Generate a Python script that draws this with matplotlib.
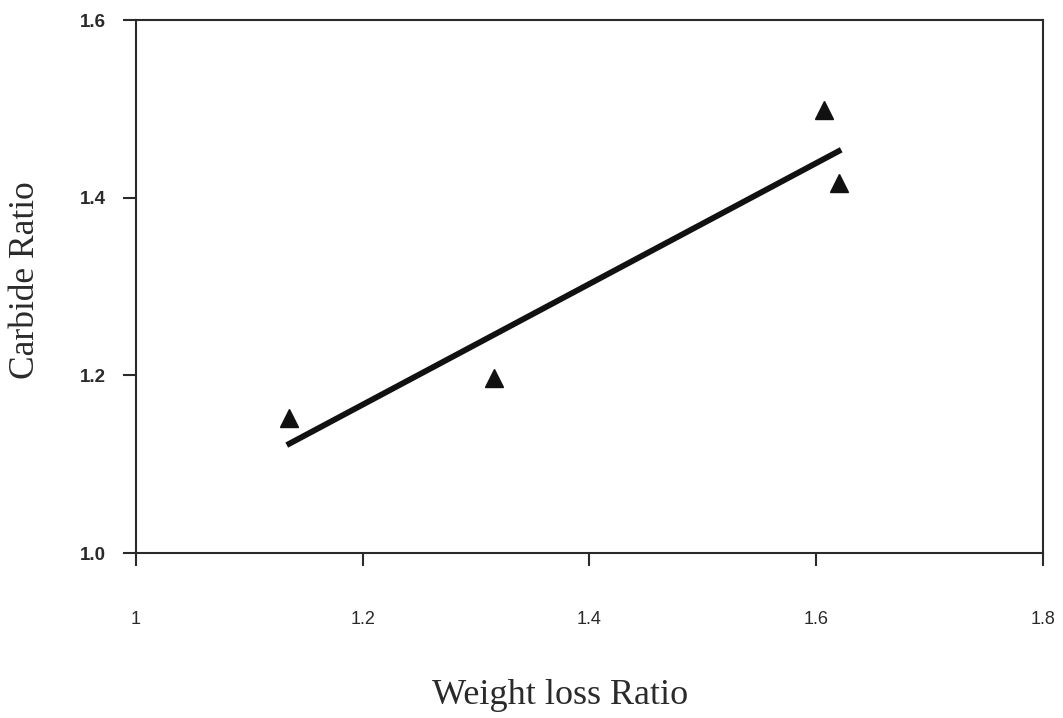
import numpy as np
import matplotlib
matplotlib.use("Agg")
import matplotlib.pyplot as plt

# Measured samples
weight_loss_ratio = [1.135, 1.316, 1.607, 1.620]
carbide_ratio = [1.152, 1.197, 1.499, 1.417]

x_ticks = [1.0, 1.2, 1.4, 1.6, 1.8]
x_tick_labels = ["1", "1.2", "1.4", "1.6", "1.8"]
y_ticks = [1.0, 1.2, 1.4, 1.6]
y_tick_labels = ["1.0", "1.2", "1.4", "1.6"]

ink = "#2a2a2a"

fig = plt.figure(figsize=(10.63, 7.18), dpi=100)
ax = fig.add_axes([0.1279, 0.2298, 0.9812 - 0.1279, 0.9721 - 0.2298])

# Least-squares trend line over the sampled range
slope, intercept = np.polyfit(weight_loss_ratio, carbide_ratio, 1)
xs = np.array([min(weight_loss_ratio) - 0.002, max(weight_loss_ratio) + 0.002])
ax.plot(xs, slope * xs + intercept, color="#111111", lw=4.2,
        solid_capstyle="butt", zorder=2)

ax.plot(weight_loss_ratio, carbide_ratio, linestyle="none", marker="^",
        markersize=13, color="#111111", zorder=3)

ax.set_xlim(1.0, 1.8)
ax.set_ylim(1.0, 1.6)

ax.set_xticks(x_ticks)
ax.set_xticklabels(x_tick_labels, family="Liberation Sans", fontsize=13,
                   color=ink)
ax.set_yticks(y_ticks)
ax.set_yticklabels(y_tick_labels, family="Liberation Sans", fontsize=13.5,
                   fontweight="bold", color=ink)

ax.tick_params(axis="x", direction="out", length=9, width=1.5,
               color=ink, pad=33)
ax.tick_params(axis="y", direction="out", length=9.5, width=1.5,
               color=ink, pad=12)

for side in ("left", "right", "top", "bottom"):
    ax.spines[side].set_linewidth(1.5)
    ax.spines[side].set_color(ink)

ax.set_xlabel("Weight loss Ratio", family="Liberation Serif", fontsize=26,
              color=ink)
ax.set_ylabel("Carbide Ratio", family="Liberation Serif", fontsize=25.5,
              color=ink)
ax.xaxis.set_label_coords(0.468, -0.236)
ax.yaxis.set_label_coords(-0.104, 0.512)

fig.savefig("out.png", dpi=100)
